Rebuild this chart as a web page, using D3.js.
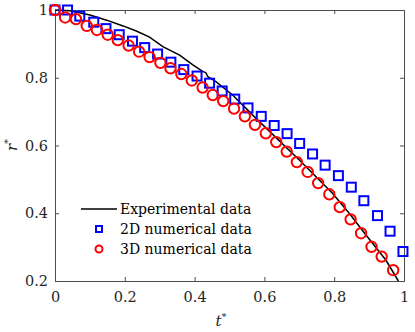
<!DOCTYPE html>
<html>
<head>
<meta charset="utf-8">
<script src="https://cdn.jsdelivr.net/npm/d3@7"></script>
<style>
  body { margin: 0; background: #fff; }
  text { font-family: "DejaVu Serif", serif; }
</style>
</head>
<body>
<div id="chart"></div>
<script>
// data
var tExp = [0, 0.043, 0.1, 0.148, 0.195, 0.233, 0.271, 0.309, 0.357, 0.395, 0.424, 0.432, 0.438, 0.462, 0.509, 0.576, 0.7, 0.795, 0.843, 0.891, 0.948, 0.984];
var rExp = [1.0, 0.998, 0.985, 0.970, 0.953, 0.938, 0.920, 0.892, 0.867, 0.838, 0.818, 0.815, 0.803, 0.788, 0.749, 0.680, 0.557, 0.459, 0.400, 0.336, 0.262, 0.2];

var t2D = [0, 0.036, 0.071, 0.111, 0.146, 0.184, 0.222, 0.257, 0.294, 0.332, 0.369, 0.407, 0.443, 0.479, 0.515, 0.553, 0.591, 0.628, 0.665, 0.701, 0.738, 0.774, 0.812, 0.849, 0.885, 0.924, 0.96, 0.997];
var r2D = [1.0, 1.0, 0.982, 0.964, 0.945, 0.927, 0.908, 0.889, 0.870, 0.846, 0.824, 0.805, 0.784, 0.761, 0.737, 0.711, 0.686, 0.659, 0.635, 0.606, 0.575, 0.542, 0.511, 0.477, 0.437, 0.393, 0.347, 0.287];

var t3D = [0, 0.029, 0.06, 0.091, 0.12, 0.151, 0.18, 0.211, 0.241, 0.271, 0.302, 0.331, 0.362, 0.392, 0.423, 0.452, 0.482, 0.513, 0.544, 0.573, 0.604, 0.634, 0.664, 0.693, 0.724, 0.754, 0.786, 0.816, 0.847, 0.877, 0.907, 0.936, 0.969];
var r3D = [1.0, 0.978, 0.973, 0.953, 0.941, 0.927, 0.911, 0.895, 0.877, 0.861, 0.844, 0.828, 0.811, 0.792, 0.771, 0.749, 0.731, 0.709, 0.686, 0.661, 0.636, 0.610, 0.582, 0.551, 0.522, 0.489, 0.456, 0.418, 0.382, 0.341, 0.301, 0.272, 0.232];

var xTicks = [0, 0.2, 0.4, 0.6, 0.8, 1];
var yTicks = [0.2, 0.4, 0.6, 0.8, 1];
var legendLabels = ["Experimental data", "2D numerical data", "3D numerical data"];

var svgWidth = 415;
var svgHeight = 332;
var margin = { top: 10, right: 11, bottom: 51, left: 55 };
var width = svgWidth - margin.left - margin.right;
var height = svgHeight - margin.top - margin.bottom;

var svg = d3.select("#chart")
  .append("svg")
  .attr("width", svgWidth)
  .attr("height", svgHeight);

var chartGroup = svg.append("g")
  .attr("transform", `translate(${margin.left}, ${margin.top})`);

var xScale = d3.scaleLinear().domain([0, 1]).range([0, width]);
var yScale = d3.scaleLinear().domain([0.2, 1]).range([height, 0]);

var axisColor = "#4d4d4d";
var fmt = d => d === 0 || d === 1 ? String(d) : d3.format(".1f")(d);

// axes, ticks pointing inward
var xAxis = d3.axisBottom(xScale).tickValues(xTicks).tickSize(-4).tickPadding(8).tickFormat(fmt);
var yAxis = d3.axisLeft(yScale).tickValues(yTicks).tickSize(-4).tickPadding(7).tickFormat(fmt);

var gx = chartGroup.append("g").attr("transform", `translate(0, ${height})`).call(xAxis);
var gy = chartGroup.append("g").call(yAxis);
chartGroup.append("g").call(d3.axisTop(xScale).tickValues(xTicks).tickSize(-4).tickFormat(""));
chartGroup.append("g").attr("transform", `translate(${width}, 0)`)
  .call(d3.axisRight(yScale).tickValues(yTicks).tickSize(-4).tickFormat(""));

chartGroup.selectAll(".domain, .tick line").attr("stroke", axisColor);
chartGroup.selectAll(".tick text")
  .attr("fill", "#262626")
  .style("font-size", "14.5px")
  .style("font-family", "'DejaVu Serif', serif");
gx.selectAll(".tick text").attr("dy", "0.9em");

// experimental curve
var line = d3.line().x((d, i) => xScale(tExp[i])).y(d => yScale(d));
chartGroup.append("path")
  .datum(rExp)
  .attr("d", line)
  .attr("fill", "none")
  .attr("stroke", "#000")
  .attr("stroke-width", 1.5);

// 2D squares
var sq = 9;
chartGroup.selectAll(".sq")
  .data(r2D)
  .enter()
  .append("rect")
  .attr("x", (d, i) => xScale(t2D[i]) - sq / 2)
  .attr("y", d => yScale(d) - sq / 2)
  .attr("width", sq)
  .attr("height", sq)
  .attr("fill", "none")
  .attr("stroke", "#0000ff")
  .attr("stroke-width", 2);

// 3D circles
chartGroup.selectAll(".circ")
  .data(r3D)
  .enter()
  .append("circle")
  .attr("cx", (d, i) => xScale(t3D[i]))
  .attr("cy", d => yScale(d))
  .attr("r", 5.2)
  .attr("fill", "none")
  .attr("stroke", "#ff0000")
  .attr("stroke-width", 2);

// legend
var legend = svg.append("g").attr("transform", "translate(81, 209)");
legend.append("line")
  .attr("x1", 0).attr("x2", 36).attr("y1", 0).attr("y2", 0)
  .attr("stroke", "#000").attr("stroke-width", 1.5);
legend.append("rect")
  .attr("x", 15).attr("y", 17).attr("width", 6).attr("height", 6)
  .attr("fill", "none").attr("stroke", "#0000ff").attr("stroke-width", 2);
legend.append("circle")
  .attr("cx", 18).attr("cy", 40).attr("r", 3.5)
  .attr("fill", "none").attr("stroke", "#ff0000").attr("stroke-width", 2);
legend.selectAll(".lt")
  .data(legendLabels)
  .enter()
  .append("text")
  .attr("x", 39)
  .attr("y", (d, i) => 5 + i * 20)
  .style("font-size", "14px")
  .attr("fill", "#000")
  .text(d => d);

// axis labels
var yl = svg.append("text")
  .attr("transform", "translate(17, 145) rotate(-90)")
  .attr("text-anchor", "middle")
  .style("font-size", "15px")
  .attr("fill", "#262626");
yl.append("tspan").style("font-style", "italic").text("r");
yl.append("tspan").attr("dy", -6).style("font-size", "10px").text("*");

var xl = svg.append("text")
  .attr("x", 221)
  .attr("y", 326)
  .attr("text-anchor", "middle")
  .style("font-size", "15px")
  .attr("fill", "#262626");
xl.append("tspan").style("font-style", "italic").text("t");
xl.append("tspan").attr("dy", -6).style("font-size", "10px").text("*");
</script>
</body>
</html>
